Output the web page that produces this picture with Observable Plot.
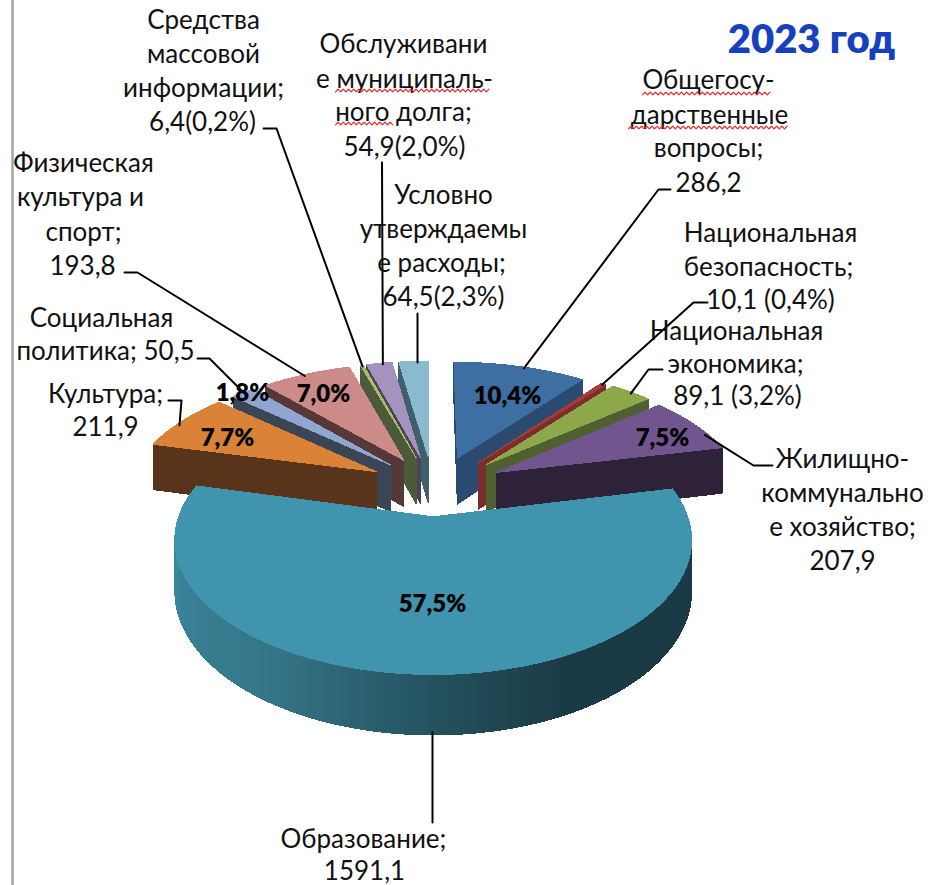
<!DOCTYPE html>
<html><head><meta charset="utf-8">
<script src="https://cdn.jsdelivr.net/npm/d3@7"></script>
<script src="https://cdn.jsdelivr.net/npm/@observablehq/plot@0.6"></script>
<style>html,body{margin:0;padding:0;background:#fff}svg{display:block}</style>
</head><body><div id="chart"></div>
<script>
// ---- data ----
const categories = ["Общегосударственные вопросы","Национальная безопасность","Национальная экономика","Жилищно-коммунальное хозяйство","Образование","Культура","Социальная политика","Физическая культура и спорт","Средства массовой информации","Обслуживание муниципального долга","Условно утверждаемые расходы"];
const values = [286.2,10.1,89.1,207.9,1591.1,211.9,50.5,193.8,6.4,54.9,64.5];
const topColors = ["#3E6FA3","#A33B38","#8CA84A","#70558F","#4094AE","#D98238","#8FA6D0","#CC8A88","#A5BD6B","#A493BE","#8ABACD"];
const wallColors = ["#2A4A70","#7A2D2A","#4F6030","#2E2238","#1A3B46","#58341A","#3A4556","#573838","#4B5A38","#4C4358","#3F5F6A"];
const eduWallAngles = [284,212,180,155,77];
const eduWallStops = ["#3F8EA8","#357587","#24525F","#1A3B46","#1A3B46"];

const labelText = [
 "Средства","массовой","информации;","6,4(0,2%)",
 "Обслуживани","е муниципаль-","ного долга;","54,9(2,0%)",
 "Условно","утверждаемы","е расходы;","64,5(2,3%)",
 "Общегосу-","дарственные","вопросы;","286,2",
 "Национальная","безопасность;","10,1 (0,4%)",
 "Национальная","экономика;","89,1 (3,2%)",
 "Жилищно-","коммунально","е хозяйство;","207,9",
 "Образование;","1591,1",
 "Культура;","211,9",
 "Социальная","политика; 50,5",
 "Физическая","культура и","спорт;","193,8"];
const labelX = [203,203,203,202, 403,404,403,404, 443,443,441,443, 708,709,708,708, 770,768,770, 736,735,737, 842,842,842,842, 363,364, 105,105, 101,105, 83,80,83,82];
const labelY = [20,54,88,122, 44,79,112,147, 195,229,263,297, 80,115,148,183, 233,267,300, 331,364,396, 459,493,527,561, 839,871, 394,427, 318,351, 163,197,232,266];

const percentText = ["10,4%","7,5%","57,5%","7,7%","1,8%","7,0%"];
const percentX = [507,662,432,227,242,323];
const percentY = [396,438,604,438,393,394];

const titleText = "2023 год";

// ---- pie geometry (3D perspective of a flat disc) ----
const X0=432, Y0=485, Rx=246.5, Ry=120, K=0.165, Depth=48, Explode=0.25;
const sliceShift = [0.025,0.04,0.05,0.04,0.006,-0.012,0,0,0,0,0];
const sliceWidth = [1,1,1,1,0.99,1,1,1,1,1,1];
const project = (u,v,drop=0)=>{const w=1-K*v; return {x:X0+Rx*u/w, y:Y0+(Ry*v+Depth*drop)/w};};
const arcs = d3.pie().sort(null)(values);
const slices = arcs.map((a,i)=>{
  const mid=(a.startAngle+a.endAngle)/2;
  return {i,a0:a.startAngle,a1:a.endAngle,mid,ox:Explode*Math.sin(mid)+sliceShift[i],oy:-Explode*Math.cos(mid),sx:sliceWidth[i]};
});
const rim=(s,t,drop=0,r=1)=>project(s.ox+r*s.sx*Math.sin(t),s.oy-r*Math.cos(t),drop);
const apex=(s,drop=0)=>project(s.ox,s.oy,drop);
const arcAngles=(s,step=Math.PI/180)=>{const n=Math.max(1,Math.ceil((s.a1-s.a0)/step));return d3.range(n+1).map(j=>s.a0+(s.a1-s.a0)*j/n);};

const eduColor = d3.scaleLinear().domain(eduWallAngles).range(eduWallStops).interpolate(d3.interpolateRgb);
const polys=[]; let pid=0;
const addPoly=(pts,color)=>{const id=pid++;pts.forEach(p=>polys.push({id,x:p.x,y:p.y,color}));};
[...slices].sort((a,b)=>(-Math.cos(a.mid))-(-Math.cos(b.mid))).forEach(s=>{
  const wall=wallColors[s.i], ts=arcAngles(s);
  const w0=[apex(s),rim(s,s.a0),rim(s,s.a0,1),apex(s,1)];
  const w1=[apex(s),rim(s,s.a1),rim(s,s.a1,1),apex(s,1)];
  const order=Math.cos(s.a0)>Math.cos(s.a1)?[w0,w1]:[w1,w0];
  order.forEach(w=>addPoly(w,wall));
  for(let j=0;j<ts.length-1;j++){
    const c=s.i===4?d3.color(eduColor((ts[j]+ts[j+1])/2*180/Math.PI)).formatHex():wall;
    addPoly([rim(s,ts[j]),rim(s,ts[j+1]),rim(s,ts[j+1],1),rim(s,ts[j],1)],c);
  }
  addPoly([apex(s),...ts.map(t=>rim(s,t))],topColors[s.i]);
});

// ---- leaders: elbow layout, end taken from the slice rim ----
const leaderElbows = [
 [[670,189],[658,189]],
 [[707,302],[693,302]],
 [[662,369],[648,369]],
 [[772,465],[753,465]],
 [[432,822]],
 [[168,400],[181,400]],
 [[197,358],[209,358]],
 [[124,272],[137,272]],
 [[263,128],[276,128]],
 [[381.5,162]],
 [[417,313]]];
const leaderFrac = [0.537,0.5,0.55,0.72,0.4955,0.42,0.5,0.47,0.5,0.62,0.62];
const leaderDrop = [0,0,0,0,1,0,0,0,0,0,0];
const leaderRows=[];
slices.forEach(s=>{
  leaderElbows[s.i].forEach(([x,y])=>leaderRows.push({id:s.i,x,y}));
  const e=rim(s,s.a0+(s.a1-s.a0)*leaderFrac[s.i],leaderDrop[s.i],0.985);
  leaderRows.push({id:s.i,...e});
});
// the long bottom leader drops straight down from the slice
leaderRows.filter(d=>d.id===4).forEach(d=>{d.x=432;});

// ---- spell-check squiggles under the marked words ----
const squiggleSpans=[[335,489,90],[335,394,123],[642,770,93],[628,789,127]];
const squiggles=[];
squiggleSpans.forEach(([a,b,y],id)=>{let i=0;for(let x=a;x<=b;x+=2.6,i++)squiggles.push({id,x,y:y+(i%2?-1.3:1.3)});});

const labels=labelText.map((t,i)=>({t,x:labelX[i],y:labelY[i]}));
const percents=percentText.map((t,i)=>({t,x:percentX[i],y:percentY[i]}));

const font="Lato, Carlito, sans-serif";
const chart=Plot.plot({
  width:928,height:885,margin:0,
  style:{background:"#fff",overflow:"visible"},
  x:{domain:[0,928],range:[0,928],axis:null},
  y:{domain:[0,885],range:[0,885],axis:null},
  color:{type:"identity"},
  marks:[
    Plot.ruleX([12],{stroke:"#A6A6A6",strokeWidth:2.5}),
    Plot.line(polys,{x:"x",y:"y",z:"id",fill:"color",stroke:"color",strokeWidth:1,curve:"linear-closed",shapeRendering:"crispEdges"}),
    Plot.line(leaderRows,{x:"x",y:"y",z:"id",stroke:"#000",strokeWidth:2,curve:"linear"}),
    Plot.text(labels,{x:"x",y:"y",text:"t",fontFamily:font,fontSize:26,fill:"#111",textAnchor:"middle",lineAnchor:"middle"}),
    Plot.line(squiggles,{x:"x",y:"y",z:"id",stroke:"#F02020",strokeWidth:1.2,curve:"linear"}),
    Plot.text(percents,{x:"x",y:"y",text:"t",fontFamily:font,fontSize:24,fontWeight:800,fill:"#000",textAnchor:"middle",lineAnchor:"middle"}),
    Plot.text([titleText],{x:[811],y:[40],text:d=>d,fontFamily:font,fontSize:40,fontWeight:800,fill:"#1540BE",textAnchor:"middle",lineAnchor:"middle"})
  ]
});
document.getElementById("chart").appendChild(chart);
</script></body></html>
